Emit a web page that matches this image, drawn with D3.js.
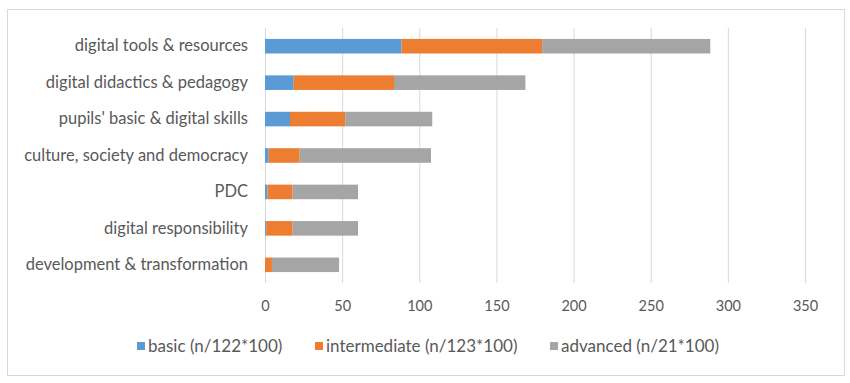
<!DOCTYPE html>
<html>
<head>
<meta charset="utf-8">
<script src="https://cdn.jsdelivr.net/npm/d3@7"></script>
<style>
  html, body { margin: 0; padding: 0; background: #fff; }
  svg { display: block; }
  text { font-family: Lato, "Open Sans", sans-serif; fill: #595959; }
</style>
</head>
<body>
<svg id="chart" width="850" height="383"></svg>
<script>
const categories = [
  "digital tools & resources",
  "digital didactics & pedagogy",
  "pupils' basic & digital skills",
  "culture, society and democracy",
  "PDC",
  "digital responsibility",
  "development & transformation"
];
const seriesNames = ["basic (n/122*100)", "intermediate (n/123*100)", "advanced (n/21*100)"];
const basic        = [88.5, 18.6, 16.2, 2.4, 1.6, 0.8, 0];
const intermediate = [91.1, 65.0, 35.8, 20.1, 16.3, 17.1, 4.5];
const advanced     = [109.0, 85.2, 56.4, 85.1, 42.4, 42.4, 43.5];
const xTicks = [0, 50, 100, 150, 200, 250, 300, 350];
const colors = ["#5b9bd5", "#ed7d31", "#a5a5a5"];

const svg = d3.select("#chart");

// outer frame
svg.append("rect")
  .attr("x", 7.5).attr("y", 9.5).attr("width", 837).attr("height", 366)
  .attr("fill", "none").attr("stroke", "#d9d9d9").attr("stroke-width", 1);

const x = d3.scaleLinear().domain([0, 350]).range([265, 805]);
const y = d3.scaleBand().domain(categories).range([28, 283]).paddingInner(0.6).paddingOuter(0.3);

// gridlines
svg.append("g").selectAll("line").data(xTicks).join("line")
  .attr("x1", d => x(d) + 0.5).attr("x2", d => x(d) + 0.5)
  .attr("y1", 28).attr("y2", 283)
  .attr("stroke", "#d9d9d9").attr("stroke-width", 1);

// stacked data
const rows = categories.map((c, i) => ({ cat: c, s0: basic[i], s1: intermediate[i], s2: advanced[i] }));
const stack = d3.stack().keys(["s0", "s1", "s2"])(rows);

svg.append("g").selectAll("g").data(stack).join("g")
  .attr("fill", (d, i) => colors[i])
  .selectAll("rect").data(d => d).join("rect")
  .attr("x", d => x(d[0]))
  .attr("width", d => Math.max(0, x(d[1]) - x(d[0])))
  .attr("y", d => y(d.data.cat))
  .attr("height", y.bandwidth());

// category labels
const yAxis = d3.axisLeft(y).tickSize(0).tickPadding(17);
const gy = svg.append("g").attr("transform", "translate(265,0)").call(yAxis);
gy.select(".domain").remove();
gy.selectAll("text").style("font-size", "16.5px").style("font-family", "Lato, 'Open Sans', sans-serif").attr("fill", "#595959");

// x tick labels
const xAxis = d3.axisBottom(x).tickValues(xTicks).tickSize(0).tickPadding(0).tickFormat(d3.format("d"));
const gx = svg.append("g").attr("transform", "translate(0,301)").call(xAxis);
gx.select(".domain").remove();
gx.selectAll("text").style("font-size", "14.5px").style("font-family", "Lato, 'Open Sans', sans-serif").attr("fill", "#595959");

// legend
const legendX = [137, 315, 550];
const lg = svg.append("g").selectAll("g").data(seriesNames).join("g")
  .attr("transform", (d, i) => `translate(${legendX[i]},346)`);
lg.append("rect").attr("x", 0).attr("y", -4).attr("width", 8).attr("height", 8)
  .attr("fill", (d, i) => colors[i]);
lg.append("text").attr("x", 11).attr("y", 0).attr("dy", "0.35em")
  .style("font-size", "17px").text(d => d);
</script>
</body>
</html>
